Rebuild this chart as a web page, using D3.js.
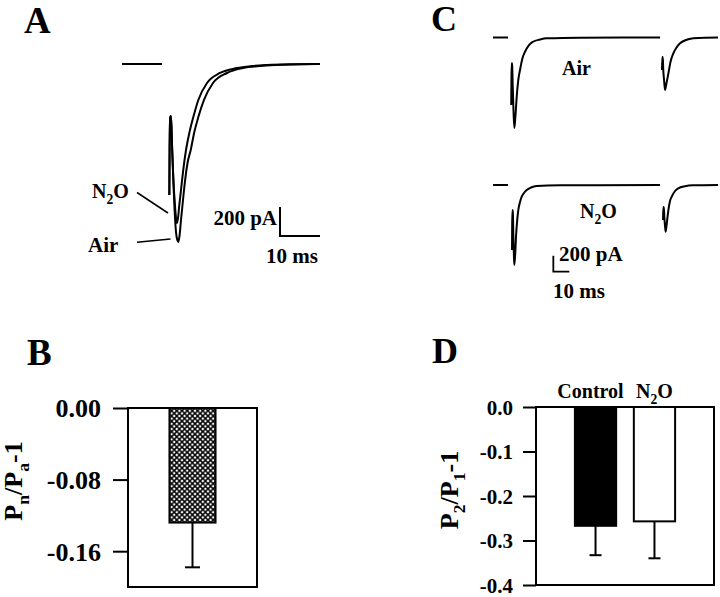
<!DOCTYPE html>
<html><head><meta charset="utf-8">
<script src="https://cdn.jsdelivr.net/npm/d3@7/dist/d3.min.js"></script>
<style>
body{margin:0;background:#fff}
svg{display:block}
text{font-family:"Liberation Serif","Times New Roman",serif;font-weight:bold;fill:#000}
</style>
</head><body>
<script>
// ---------------- DATA ----------------
// Panel A: current traces [time ms, current pA]
const preA = [[0,0],[10,0]];
const traceA_air = [[11.83,-903],[11.9,-593],[12.05,-372],[12.2,-359],[12.35,-421],[12.55,-593],[12.83,-800],[13.15,-1007],[13.5,-1159],[13.83,-1214],[14.08,-1228],[14.38,-1186],[14.75,-1076],[15.25,-938],[15.75,-807],[16.38,-683],[17.18,-593],[18.08,-469],[19.08,-366],[20.5,-248],[22.75,-131],[26.25,-62],[30.25,-28],[34.5,-14],[38.75,-7],[44.5,-2],[49.5,0]];
const traceA_n2o = [[11.83,-903],[11.9,-593],[12.05,-372],[12.2,-359],[12.35,-421],[12.55,-593],[12.83,-786],[13.15,-938],[13.45,-1048],[13.68,-1097],[14.0,-1062],[14.33,-972],[14.75,-869],[15.25,-745],[16.0,-593],[16.88,-469],[17.83,-366],[19.08,-248],[21.25,-131],[24.5,-62],[28.68,-28],[32.5,-14],[36.25,-7],[42,-2],[49.5,0]];
// Panel C: paired-pulse traces [time ms, current pA]
const preC = [[0,0],[9.4,0]];
const traceC_air1 = [[11.38,-844],[11.56,-469],[11.75,-319],[12.0,-356],[12.31,-594],[12.69,-844],[13.31,-1131],[13.94,-1006],[14.81,-744],[15.81,-531],[16.88,-406],[18.44,-256],[20.0,-178],[22.5,-94],[25.0,-53],[29.38,-25],[33.56,-10],[54.4,-2],[104.4,0]];
const traceC_air2 = [[105.6,-406],[105.8,-244],[106.1,-244],[106.4,-406],[106.9,-531],[107.5,-656],[108.3,-581],[109.6,-448],[110.9,-306],[112.7,-198],[114.7,-125],[116.9,-73],[120.6,-31],[125.2,-10],[132.5,-2],[140.6,0]];
const traceC_n2o1 = [[11.88,-813],[11.98,-500],[12.19,-313],[12.44,-350],[12.69,-625],[13.0,-838],[13.31,-1000],[13.88,-863],[14.38,-646],[15.13,-438],[15.81,-313],[16.88,-213],[17.94,-146],[19.38,-100],[21.06,-63],[23.75,-31],[27.3,-13],[41.9,-4],[104.4,0]];
const traceC_n2o2 = [[106.25,-438],[106.4,-275],[106.75,-275],[107.1,-413],[107.5,-513],[107.9,-584],[108.4,-513],[109.6,-313],[110.6,-200],[111.7,-146],[113.75,-75],[115.8,-41],[120,-15],[125,-4],[140.6,0]];
// Panel B
const catB = ["N2O"];
const valB = [-0.128];
const errB = [0.05];
const ticksB = [0, -0.08, -0.16];
const tickLabelsB = ["0.00", "-0.08", "-0.16"];
// Panel D
const catD = ["Control", "N2O"];
const valD = [-0.267, -0.257];
const errD = [0.066, 0.083];
const ticksD = [0, -0.1, -0.2, -0.3, -0.4];
const tickLabelsD = ["0.0", "-0.1", "-0.2", "-0.3", "-0.4"];

// ---------------- DRAW ----------------
const W = 720, H = 597;
const svg = d3.select("body").append("svg").attr("width", W).attr("height", H);
const defs = svg.append("defs");
const P = 5.2;
const pat = defs.append("pattern").attr("id","xh").attr("width",P).attr("height",P).attr("patternUnits","userSpaceOnUse");
pat.append("rect").attr("width",P).attr("height",P).attr("fill","#fff");
pat.append("path").attr("d",`M0,0L${P},${P}M${P},0L0,${P}`).attr("stroke","#000").attr("stroke-width",1.5);

function label(g, x, y, parts, fs, anchor, rotate) {
  const t = g.append("text").attr("font-size", fs).attr("text-anchor", anchor || "start");
  if (rotate) t.attr("transform", `translate(${x},${y}) rotate(-90)`);
  else t.attr("x", x).attr("y", y);
  let shifted = false;
  parts.forEach(p => {
    const sub = Array.isArray(p);
    const txt = sub ? p[0] : p;
    const ts = t.append("tspan").text(txt);
    if (sub) { ts.attr("font-size", fs*0.68).attr("dy", fs*0.28); shifted = true; }
    else if (shifted) { ts.attr("dy", -fs*0.28); shifted = false; }
  });
  return t;
}

// Panel letters
label(svg, 24, 33, ["A"], 37);
label(svg, 27, 365, ["B"], 37);
label(svg, 431, 31, ["C"], 36);
label(svg, 432, 363, ["D"], 36);

// ----- Panel A -----
const xA = d3.scaleLinear().domain([0, 49.5]).range([122, 320]);
const yA = d3.scaleLinear().domain([0, -1200]).range([64, 238]);
const lineA = d3.line().x(d => xA(d[0])).y(d => yA(d[1])).curve(d3.curveMonotoneX);
const gA = svg.append("g");
[preA, traceA_n2o, traceA_air].forEach(tr => {
  gA.append("path").attr("d", lineA(tr)).attr("fill","none").attr("stroke","#000").attr("stroke-width",2).attr("stroke-linejoin","round");
});
// scale bar A: 200 pA, 10 ms
const sbA = {t:39.5, i:-1186};
gA.append("path").attr("d", `M${xA(sbA.t)},${yA(sbA.i+200)}L${xA(sbA.t)},${yA(sbA.i)}L${xA(sbA.t+10)},${yA(sbA.i)}`)
  .attr("fill","none").attr("stroke","#000").attr("stroke-width",2);
label(gA, 277, 225, ["200 pA"], 21, "end");
label(gA, 318, 263, ["10 ms"], 21, "end");
label(gA, 92, 198, ["N", ["2"], "O"], 20);
label(gA, 88, 252, ["Air"], 21);
gA.append("line").attr("x1",137).attr("y1",192.5).attr("x2",168).attr("y2",213).attr("stroke","#000").attr("stroke-width",1.5);
gA.append("line").attr("x1",137).attr("y1",242.3).attr("x2",170.5).attr("y2",239).attr("stroke","#000").attr("stroke-width",1.5);

// ----- Panel C -----
const xC = d3.scaleLinear().domain([0, 140.6]).range([493, 718]);
const yCa = d3.scaleLinear().domain([0, -1000]).range([37.5, 117.5]);
const yCn = d3.scaleLinear().domain([0, -1000]).range([185, 265]);
const gC = svg.append("g");
const lineCa = d3.line().x(d => xC(d[0])).y(d => yCa(d[1])).curve(d3.curveMonotoneX);
const lineCn = d3.line().x(d => xC(d[0])).y(d => yCn(d[1])).curve(d3.curveMonotoneX);
[preC, traceC_air1, traceC_air2].forEach(tr => gC.append("path").attr("d", lineCa(tr)).attr("fill","none").attr("stroke","#000").attr("stroke-width",2));
[preC, traceC_n2o1, traceC_n2o2].forEach(tr => gC.append("path").attr("d", lineCn(tr)).attr("fill","none").attr("stroke","#000").attr("stroke-width",2));
const sbC = {t:37.7, i:-1084};
gC.append("path").attr("d", `M${xC(sbC.t)},${yCn(sbC.i+200)}L${xC(sbC.t)},${yCn(sbC.i)}L${xC(sbC.t+10)},${yCn(sbC.i)}`)
  .attr("fill","none").attr("stroke","#000").attr("stroke-width",1.8);
label(gC, 562, 75, ["Air"], 20);
label(gC, 580, 218, ["N", ["2"], "O"], 20);
label(gC, 559, 261, ["200 pA"], 21);
label(gC, 553, 298, ["10 ms"], 21);

// ----- Panel B -----
const boxB = {l:128, r:257, t:408, b:587};
const yB = d3.scaleLinear().domain([0, -0.2]).range([boxB.t, boxB.b]);
const xB = d3.scaleBand().domain(catB).range([boxB.l, boxB.r]).paddingInner(0).paddingOuter(0.9);
const gB = svg.append("g");
const axB = d3.axisLeft(yB).tickValues(ticksB).tickFormat((d,i) => tickLabelsB[i]).tickSize(15).tickSizeOuter(0).tickPadding(12);
const gAxB = gB.append("g").attr("transform", `translate(${boxB.l},0)`).call(axB);
gAxB.attr("font-family", null).attr("font-size", null);
gAxB.select(".domain").remove();
gAxB.selectAll(".tick line").attr("stroke-width", 2);
gAxB.selectAll(".tick text").attr("font-size", 26).attr("dy", "0.34em");
catB.forEach((c,i) => {
  const x0 = xB(c), bw = xB.bandwidth(), cx = x0 + bw/2;
  gB.append("line").attr("x1",cx).attr("x2",cx).attr("y1",yB(valB[i])).attr("y2",yB(valB[i]-errB[i])).attr("stroke","#000").attr("stroke-width",2);
  gB.append("line").attr("x1",cx-7.5).attr("x2",cx+7.5).attr("y1",yB(valB[i]-errB[i])).attr("y2",yB(valB[i]-errB[i])).attr("stroke","#000").attr("stroke-width",2);
  gB.append("rect").attr("x",x0).attr("y",yB(0)).attr("width",bw).attr("height",yB(valB[i])-yB(0))
    .attr("fill","url(#xh)").attr("stroke","#000").attr("stroke-width",2);
});
gB.append("rect").attr("x",boxB.l).attr("y",boxB.t).attr("width",boxB.r-boxB.l).attr("height",boxB.b-boxB.t)
  .attr("fill","none").attr("stroke","#000").attr("stroke-width",2);
label(gB, 22, 481, ["P", ["n"], "/P", ["a"], "-1"], 26, "middle", true);

// ----- Panel D -----
const boxD = {l:536, r:714, t:407, b:585};
const yD = d3.scaleLinear().domain([0, -0.4]).range([boxD.t, boxD.b]);
const xD = d3.scaleBand().domain(catD).range([boxD.l, boxD.r]).paddingInner(0.3).paddingOuter(0.66);
const gD = svg.append("g");
const axD = d3.axisLeft(yD).tickValues(ticksD).tickFormat((d,i) => tickLabelsD[i]).tickSize(13).tickSizeOuter(0).tickPadding(10);
const gAxD = gD.append("g").attr("transform", `translate(${boxD.l},0)`).call(axD);
gAxD.attr("font-family", null).attr("font-size", null);
gAxD.select(".domain").remove();
gAxD.selectAll(".tick line").attr("stroke-width", 2);
gAxD.selectAll(".tick text").attr("font-size", 21).attr("dy", "0.34em");
catD.forEach((c,i) => {
  const x0 = xD(c), bw = xD.bandwidth(), cx = x0 + bw/2;
  const ye = yD(valD[i]-errD[i]);
  gD.append("line").attr("x1",cx).attr("x2",cx).attr("y1",yD(valD[i])).attr("y2",ye).attr("stroke","#000").attr("stroke-width",2);
  gD.append("line").attr("x1",cx-6).attr("x2",cx+6).attr("y1",ye).attr("y2",ye).attr("stroke","#000").attr("stroke-width",2);
  gD.append("rect").attr("x",x0).attr("y",yD(0)).attr("width",bw).attr("height",yD(valD[i])-yD(0))
    .attr("fill", i===0 ? "#000" : "#fff").attr("stroke","#000").attr("stroke-width",2);
});
gD.append("rect").attr("x",boxD.l).attr("y",boxD.t).attr("width",boxD.r-boxD.l).attr("height",boxD.b-boxD.t)
  .attr("fill","none").attr("stroke","#000").attr("stroke-width",2);
label(gD, xD("Control")+xD.bandwidth()/2 - 5, 398, ["Control"], 20, "middle");
label(gD, xD("N2O")+xD.bandwidth()/2, 398, ["N", ["2"], "O"], 20, "middle");
label(gD, 458, 490, ["P", ["2"], "/P", ["1"], "-1"], 26, "middle", true);
</script>
</body></html>
